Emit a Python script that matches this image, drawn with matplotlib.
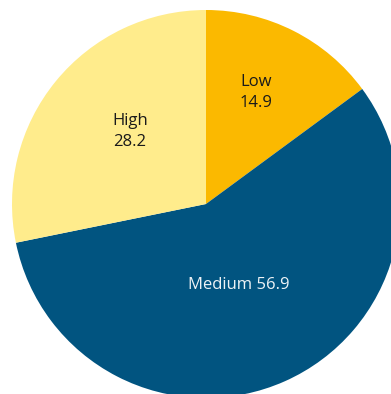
import numpy as np
import matplotlib.pyplot as plt

plt.rcParams['font.family'] = ['Open Sans', 'DejaVu Sans']

# data
categories = ["Low", "Medium", "High"]
values = [14.9, 56.9, 28.2]
colors = ["#FBB900", "#015480", "#FFEC8C"]
text_colors = ["#1a1a1a", "#eef3f6", "#1a1a1a"]
label_text = ["Low\n14.9", "Medium 56.9", "High\n28.2"]
label_r = [0.63, 0.45, 0.54]      # fraction of radius for each label
label_shift = [2.5, -1.7, -4.7]   # degrees off the wedge middle

W, H = 391, 394
fig = plt.figure(figsize=(W / 100, H / 100), dpi=100)
ax = fig.add_axes([0, 0, 1, 1])

cx, cy, R = 206, H - 204, 194
wedges, _ = ax.pie(values, colors=colors, startangle=90, counterclock=False,
                   radius=R, center=(cx, cy),
                   wedgeprops=dict(linewidth=0, antialiased=True))

for w, txt, c, r, d in zip(wedges, label_text, text_colors, label_r, label_shift):
    mid = np.deg2rad((w.theta1 + w.theta2) / 2 + d)
    ax.text(cx + r * R * np.cos(mid), cy + r * R * np.sin(mid), txt,
            ha="center", va="center", multialignment="left",
            fontsize=12, color=c, linespacing=1.45)

ax.set_xlim(0, W)
ax.set_ylim(0, H)
ax.set_aspect("auto")
ax.axis("off")

fig.savefig("out.png", dpi=100)
